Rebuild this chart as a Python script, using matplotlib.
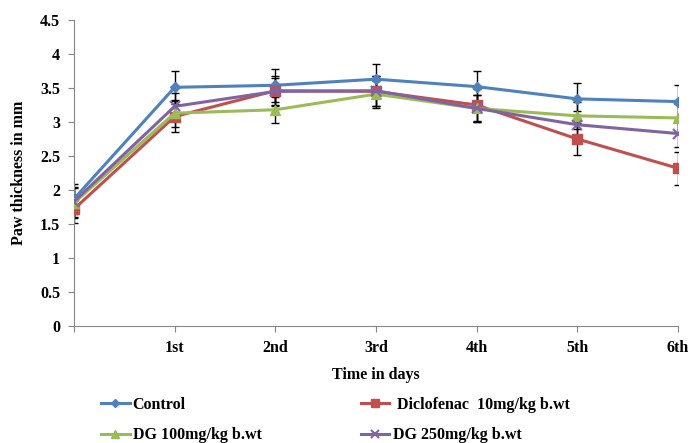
import matplotlib
matplotlib.use("Agg")
import matplotlib.pyplot as plt
import numpy as np

days = ["", "1st", "2nd", "3rd", "4th", "5th", "6th"]
control = [1.87, 3.51, 3.54, 3.63, 3.52, 3.34, 3.30]
control_err = [0.22, 0.24, 0.24, 0.23, 0.23, 0.23, 0.24]
diclofenac = [1.72, 3.08, 3.46, 3.45, 3.25, 2.75, 2.32]
diclofenac_err = [0.20, 0.23, 0.22, 0.22, 0.23, 0.24, 0.24]
dg100 = [1.81, 3.13, 3.18, 3.41, 3.20, 3.09, 3.06]
dg100_err = [0.22, 0.20, 0.19, 0.20, 0.20, 0.20, 0.20]
dg250 = [1.83, 3.23, 3.45, 3.46, 3.20, 2.96, 2.83]
dg250_err = [0.22, 0.20, 0.20, 0.22, 0.20, 0.20, 0.20]

plt.rcParams['font.family'] = ['Liberation Serif', 'DejaVu Serif']
plt.rcParams['font.weight'] = 'bold'

fig = plt.figure(figsize=(6.91, 4.43), dpi=100)
ax = fig.add_axes([74/691, 1-326/443, (678-74)/691, (326-20)/443])

x = np.arange(len(days))
series = [
    ("Control", control, control_err, "#4F81BD", "D", 5),
    (" Diclofenac  10mg/kg b.wt", diclofenac, diclofenac_err, "#C0504D", "s", 7),
    ("DG 100mg/kg b.wt", dg100, dg100_err, "#9BBB59", "^", 7),
    ("DG 250mg/kg b.wt", dg250, dg250_err, "#8064A2", "x", 7),
]
handles = {}
for name, vals, err, col, mk, ms in series:
    ax.errorbar(x, vals, yerr=err, fmt='none', ecolor='black', elinewidth=1, capsize=3, zorder=2)
    h, = ax.plot(x, vals, color=col, marker=mk, markersize=ms, linewidth=2.2,
                 markeredgewidth=1.5 if mk == 'x' else 1, label=name, zorder=3)
    handles[name] = h

ax.set_xlim(0, 6)
ax.set_ylim(0, 4.5)
ax.set_xticks(x)
ax.set_xticklabels(days, fontsize=11.5, fontweight='bold')
ax.set_yticks(np.arange(0, 4.51, 0.5))
ax.set_yticklabels(["0", "0.5", "1", "1.5", "2", "2.5", "3", "3.5", "4", "4.5"], fontsize=11.5, fontweight='bold')
for s in ['top', 'right']:
    ax.spines[s].set_visible(False)
for s in ['left', 'bottom']:
    ax.spines[s].set_color('#868686')
ax.tick_params(axis='both', direction='out', color='#868686', length=4, pad=6)
ax.set_ylabel("Paw thickness in mm", fontsize=11.5, fontweight='bold', labelpad=9)
ax.set_xlabel("Time in days", fontsize=11.5, fontweight='bold', labelpad=8)

order = ["Control", "DG 100mg/kg b.wt", " Diclofenac  10mg/kg b.wt", "DG 250mg/kg b.wt"]
fig.legend([handles[o] for o in order], order, ncol=2, loc='center',
           bbox_to_anchor=(0.485, 1-420/443), frameon=False,
           handlelength=1.8, handletextpad=0.2, columnspacing=6.2, labelspacing=0.9,
           markerscale=0.75, prop={'weight': 'bold', 'size': 11.5})

fig.savefig("out.png", dpi=100)
